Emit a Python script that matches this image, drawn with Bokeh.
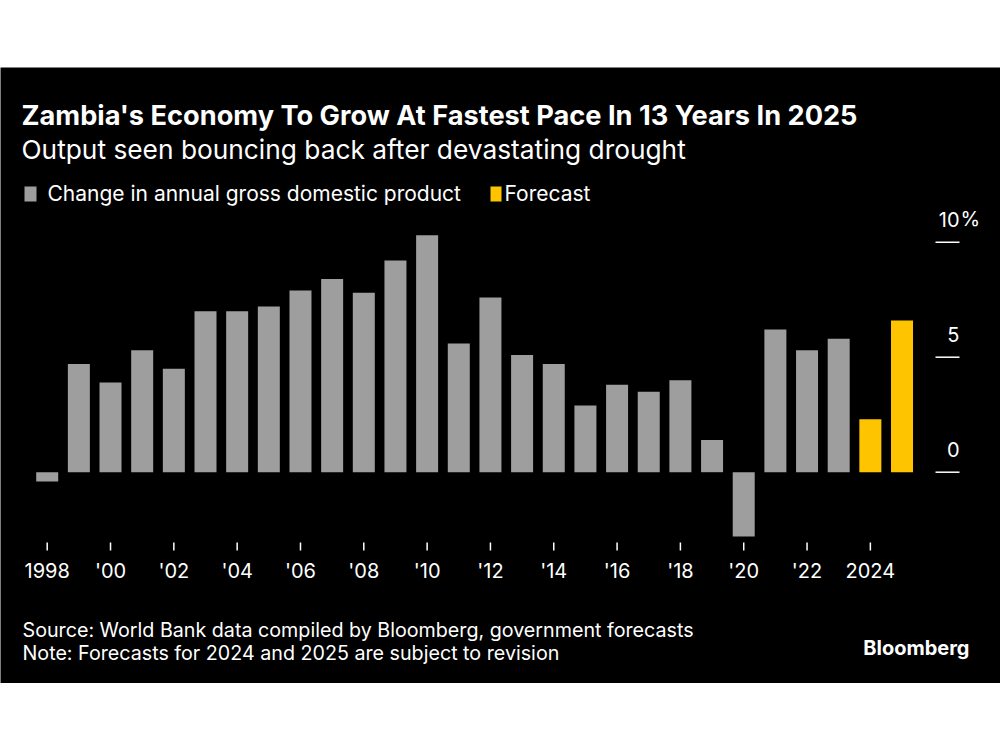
from bokeh.plotting import figure
from bokeh.models import Label, Range1d, Spacer
from bokeh.layouts import column
from bokeh.embed import file_html
from bokeh.resources import INLINE
from bokeh.core.properties import value

# ---------------- data ----------------
years = list(range(1998, 2026))
gdp_growth = [-0.4, 4.7, 3.9, 5.3, 4.5, 7.0, 7.0, 7.2, 7.9, 8.4, 7.8, 9.2, 10.3, 5.6,
              7.6, 5.1, 4.7, 2.9, 3.8, 3.5, 4.0, 1.4, -2.8, 6.2, 5.3, 5.8, 2.3, 6.6]
forecast_years = [2024, 2025]
x_ticks = [1998, 2000, 2002, 2004, 2006, 2008, 2010, 2012, 2014, 2016, 2018, 2020, 2022, 2024]
x_tick_labels = ["1998", "'00", "'02", "'04", "'06", "'08", "'10", "'12", "'14", "'16",
                 "'18", "'20", "'22", "2024"]
y_ticks = [0, 5, 10]
y_tick_labels = ["0", "5", "10"]

title = "Zambia's Economy To Grow At Fastest Pace In 13 Years In 2025"
subtitle = "Output seen bouncing back after devastating drought"
legend_actual = "Change in annual gross domestic product"
legend_forecast = "Forecast"
source = "Source: World Bank data compiled by Bloomberg, government forecasts"
note = "Note: Forecasts for 2024 and 2025 are subject to revision"

GREY = "#9e9e9e"
YELLOW = "#ffc400"
WHITE = "#ffffff"
BG = "#000000"
FONT = "Inter"

# ---------------- geometry ----------------
W, H = 1000, 616
TOP = 67
PPX = 31.66          # pixels per year
PPY = 23.0           # pixels per percentage point
X0_PX = 46.7         # pixel of 1998 bar centre
ZERO_PX = 404.7      # pixel (from panel top) of zero line
SHIFT = 8            # text baseline correction (px)
x_start = years[0] - X0_PX / PPX
x_end = x_start + W / PPX
y_end = ZERO_PX / PPY
y_start = y_end - H / PPY


def dx(px):
    return x_start + px / PPX


def dy(py):
    return y_end - (py - TOP) / PPY


p = figure(width=W, height=H, output_backend="svg", toolbar_location=None,
           x_range=Range1d(x_start, x_end), y_range=Range1d(y_start, y_end),
           min_border=0, min_border_left=0, min_border_right=0,
           min_border_top=0, min_border_bottom=0)
p.axis.visible = False
p.grid.visible = False
p.outline_line_color = None
p.background_fill_color = BG
p.border_fill_color = BG

colors = [YELLOW if y in forecast_years else GREY for y in years]
p.vbar(x=years, top=gdp_growth, bottom=0, width=0.695, fill_color=colors, line_color=None)

# x "axis": tick marks and labels
p.segment(x0=x_ticks, x1=x_ticks, y0=[dy(542)] * len(x_ticks), y1=[dy(550)] * len(x_ticks),
          line_color=WHITE, line_width=1.5)
p.text(x=x_ticks, y=[dy(578 - SHIFT)] * len(x_ticks), text=x_tick_labels,
       text_font=value(FONT), text_font_size="20px", text_color=WHITE,
       text_align="center", text_baseline="alphabetic")

# right "axis": tick lines with labels above
p.segment(x0=[dx(935)] * len(y_ticks), x1=[dx(959)] * len(y_ticks), y0=y_ticks, y1=y_ticks,
          line_color=WHITE, line_width=1.5)
p.text(x=[dx(959)] * len(y_ticks), y=[t + (15 + SHIFT) / PPY for t in y_ticks], text=y_tick_labels,
       text_font=value(FONT), text_font_size="20px", text_color=WHITE,
       text_align="right", text_baseline="alphabetic")
p.text(x=[dx(960)], y=[y_ticks[-1] + (15 + SHIFT) / PPY], text=["%"],
       text_font=value(FONT), text_font_size="20px", text_color=WHITE,
       text_align="left", text_baseline="alphabetic")


def label(txt, xpx, ypx, size, weight="normal", align="left"):
    p.add_layout(Label(x=dx(xpx), y=dy(ypx - SHIFT), text=txt, text_font=FONT,
                       text_font_size=size, text_font_style=weight, text_color=WHITE,
                       text_align=align, text_baseline="alphabetic"))


label(title, 21, 123, "27.2px", "bold")
label(subtitle, 21, 157, "26.3px")
label(legend_actual, 47, 201, "21px")
label(legend_forecast, 504, 201, "21px")
label(source, 22, 637, "19.7px")
label(note, 22, 660, "19.7px")
label("Bloomberg", 969, 655, "20px", "bold", "right")

# legend swatches
p.quad(left=[dx(24), dx(490)], right=[dx(36), dx(501)], bottom=[dy(201)] * 2, top=[dy(186)] * 2,
       fill_color=[GREY, YELLOW], line_color=None)

layout = column(Spacer(width=W, height=TOP), p, Spacer(width=W, height=750 - TOP - H))
html = file_html(layout, INLINE)
html = html.replace("<body>", '<body style="margin:0;background:#ffffff;">')
open("out.html", "w").write(html)
